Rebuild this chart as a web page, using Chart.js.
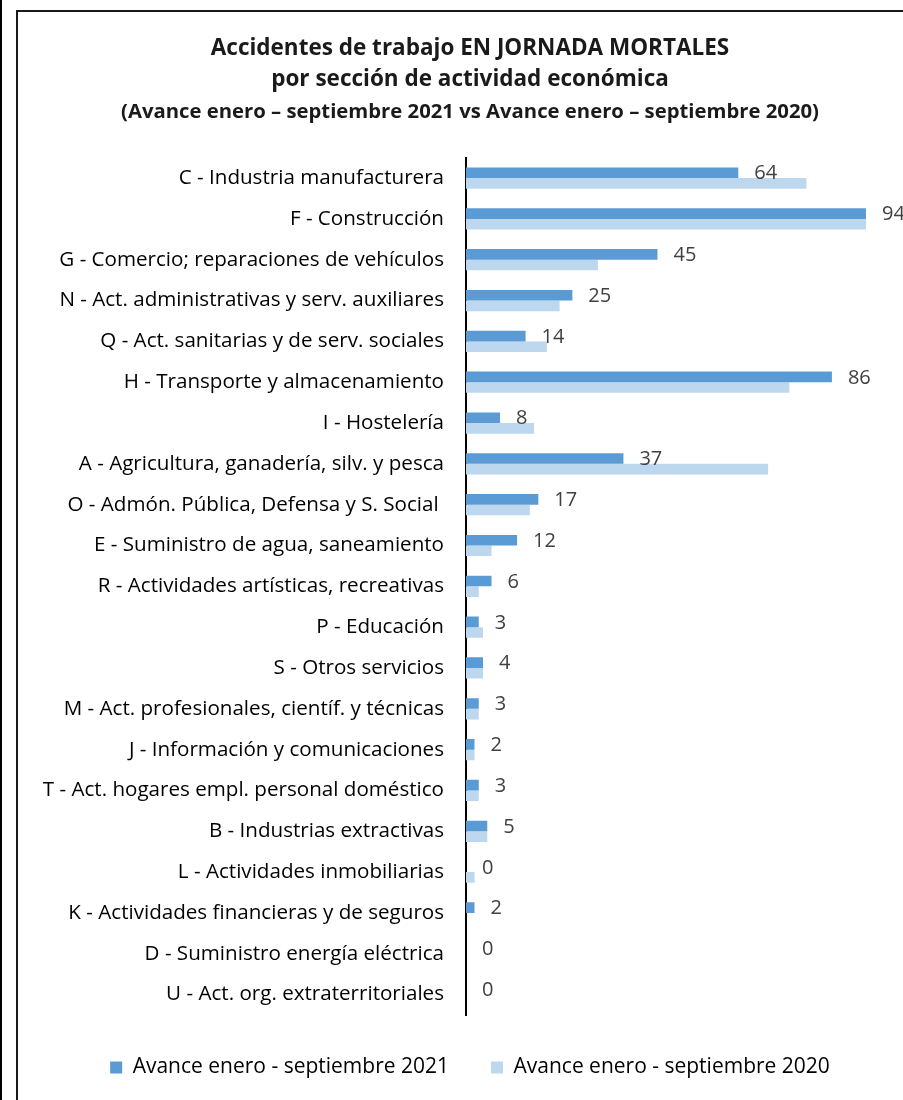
<!DOCTYPE html>
<html>
<head>
<meta charset="utf-8">
<script src="https://cdn.jsdelivr.net/npm/chart.js@4.4.0/dist/chart.umd.min.js"></script>
<style>
  body { margin: 0; background: #fff; overflow: hidden; }
  #wrap { position: relative; width: 903px; height: 1100px; overflow: hidden; }
  #leftLine { position: absolute; left: 0; top: 0; width: 2px; height: 1100px; background: #000; }
  #frame { position: absolute; left: 16px; top: 10px; width: 1000px; height: 1200px; border: 2px solid #1a1a1a; }
  #myChart { position: absolute; left: 0; top: 0; }
</style>
</head>
<body>
<div id="wrap">
  <div id="leftLine"></div>
  <div id="frame"></div>
  <canvas id="myChart" width="940" height="1100"></canvas>
</div>
<script>
// secciones de actividad
const categories = [
  "C - Industria manufacturera",
  "F - Construcción",
  "G - Comercio; reparaciones de vehículos",
  "N - Act. administrativas y serv. auxiliares",
  "Q - Act. sanitarias y de serv. sociales",
  "H - Transporte y almacenamiento",
  "I - Hostelería",
  "A - Agricultura, ganadería, silv. y pesca",
  "O - Admón. Pública, Defensa y S. Social ",
  "E - Suministro de agua, saneamiento",
  "R - Actividades artísticas, recreativas",
  "P - Educación",
  "S - Otros servicios",
  "M - Act. profesionales, científ. y técnicas",
  "J - Información y comunicaciones",
  "T - Act. hogares empl. personal doméstico",
  "B - Industrias extractivas",
  "L - Actividades inmobiliarias",
  "K - Actividades financieras y de seguros",
  "D - Suministro energía eléctrica",
  "U - Act. org. extraterritoriales"
];
const values2021 = [64, 94, 45, 25, 14, 86, 8, 37, 17, 12, 6, 3, 4, 3, 2, 3, 5, 0, 2, 0, 0];
const values2020 = [80, 94, 31, 22, 19, 76, 16, 71, 15, 6, 3, 4, 4, 3, 2, 3, 5, 2, 0, 0, 0];
const seriesNames = ["Avance enero - septiembre 2021", "Avance enero - septiembre 2020"];
const titleLines = ["Accidentes de trabajo EN JORNADA MORTALES", "por sección de actividad económica"];
const subtitleText = "(Avance enero – septiembre 2021 vs Avance enero – septiembre 2020)";

const FONT = "'Open Sans'";

//etiquetas de valor solo para 2021
const barLabels = {
  id: "barLabels",
  afterDatasetsDraw: (chart) => {
    const ctx = chart.ctx;
    const meta = chart.getDatasetMeta(0);
    ctx.save();
    ctx.font = "20px " + FONT;
    ctx.fillStyle = "#404040";
    ctx.textAlign = "left";
    ctx.textBaseline = "middle";
    meta.data.forEach((bar, i) => {
      ctx.fillText(String(values2021[i]), bar.x + 16, bar.y + 1);
    });
    ctx.restore();
  },
};

const data = {
  labels: categories,
  datasets: [
    {
      label: seriesNames[0],
      data: values2021,
      backgroundColor: "#5B9BD5",
      borderWidth: 0,
      categoryPercentage: 0.52,
      barPercentage: 1.0,
    },
    {
      label: seriesNames[1],
      data: values2020,
      backgroundColor: "#BDD7EE",
      borderWidth: 0,
      categoryPercentage: 0.52,
      barPercentage: 1.0,
    },
  ],
};

const config = {
  type: "bar",
  data: data,
  plugins: [barLabels],
  options: {
    indexAxis: "y",
    responsive: false,
    animation: false,
    layout: {
      padding: { left: 0, right: 0, top: 0, bottom: 12 },
    },
    scales: {
      x: {
        display: false,
        min: 0,
        max: 111.4,
      },
      y: {
        grid: { display: false, drawTicks: false },
        border: { display: true, color: "#000", width: 2 },
        ticks: {
          color: "#000",
          padding: 22,
          autoSkip: false,
          font: { family: FONT, size: 20.6 },
        },
        afterFit: (scale) => {
          scale.width = 466;
        },
      },
    },
    plugins: {
      tooltip: { enabled: false },
      title: {
        display: true,
        text: titleLines,
        color: "#1a1a1a",
        font: { family: FONT, size: 22.5, weight: "bold", lineHeight: 1.378 },
        padding: { top: 33, bottom: 0 },
      },
      subtitle: {
        display: true,
        text: subtitleText,
        color: "#1a1a1a",
        font: { family: FONT, size: 20.3, weight: "bold", lineHeight: 1.2 },
        padding: { top: 5, bottom: 33.3 },
      },
      legend: {
        position: "bottom",
        labels: {
          color: "#000",
          boxWidth: 12,
          boxHeight: 12,
          padding: 42,
          font: { family: FONT, size: 21 },
        },
      },
    },
  },
};
const myChart = new Chart(document.getElementById("myChart"), config);
</script>
</body>
</html>
